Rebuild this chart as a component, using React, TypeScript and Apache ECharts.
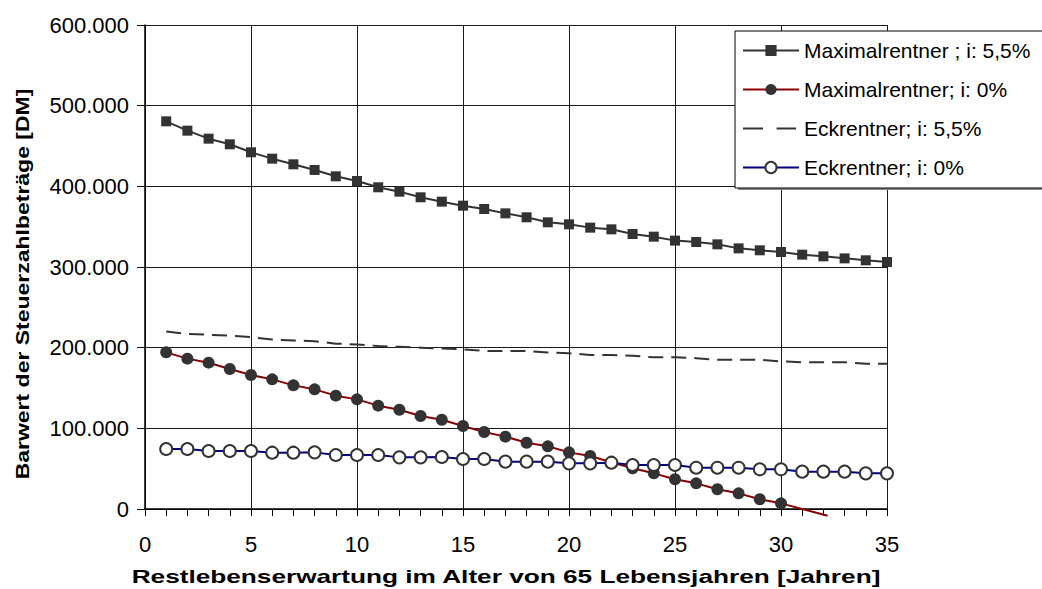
import React, { useEffect, useRef } from "react";
import * as echarts from "echarts";

const years = [1, 2, 3, 4, 5, 6, 7, 8, 9, 10, 11, 12, 13, 14, 15, 16, 17, 18, 19, 20, 21, 22, 23, 24, 25, 26, 27, 28, 29, 30, 31, 32, 33, 34, 35];

const seriesNames = [
  "Maximalrentner ; i: 5,5%",
  "Maximalrentner; i: 0%",
  "Eckrentner; i: 5,5%",
  "Eckrentner; i: 0%",
];

const maxi55 = [480600, 469000, 459100, 452100, 442200, 434300, 427300, 420300, 412400, 406600, 398800, 393400, 386400, 381000, 376000, 371900, 366500, 361600, 355400, 352900, 348800, 346700, 340900, 337600, 332700, 331000, 328100, 323100, 320700, 318600, 315300, 313200, 310700, 308300, 306200];
const maxi0 = [194200, 186400, 181400, 173600, 166100, 160700, 153300, 148300, 140500, 135900, 128100, 123100, 115300, 110700, 102900, 95500, 89700, 82200, 77700, 70200, 65700, 58000, 50400, 44200, 36800, 31800, 24400, 19400, 12000, 7000];
const eck55 = [220000, 217000, 216000, 215000, 213000, 210000, 209000, 208000, 205000, 204000, 202000, 201000, 200000, 199000, 198000, 196000, 196000, 196000, 194000, 193000, 191000, 191000, 190000, 188000, 188000, 187000, 185000, 185000, 185000, 183000, 182000, 182000, 182000, 180000, 180000];
const eck0 = [74400, 74400, 71900, 71900, 71900, 69800, 69800, 70200, 66900, 66900, 66900, 64000, 64000, 64500, 62000, 62000, 58700, 58700, 58700, 56600, 56600, 57400, 54500, 54500, 54500, 51200, 51200, 51200, 49200, 49200, 46300, 46300, 46300, 44200, 44200];

// line continuations past the last marker (no marker drawn)
const maxi55Tail = [35.46, 302900];
const maxi0Tail = [32.2, -8300];
const eck55Tail = [35.46, 179000];
const eck0Tail = [35.46, 43400];

const xTicks = { min: 0, max: 35, interval: 5 };
const yTicks = { min: 0, max: 600000, interval: 100000 };

const xTitle = "Restlebenserwartung im Alter von 65 Lebensjahren [Jahren]";
const yTitle = "Barwert der Steuerzahlbeträge [DM]";

const FONT = '"Liberation Sans", Arial, sans-serif';

function fmt(v: number): string {
  const s = String(Math.round(Math.abs(v)));
  const out = s.replace(/\B(?=(\d{3})+(?!\d))/g, ".");
  return v < 0 ? "-" + out : out;
}

function build(vals: number[], tail: number[]) {
  const d: any[] = vals.map((v, i) => [years[i], v]);
  d.push({ value: tail, symbol: "none" });
  return d;
}

export default function App() {
  const ref = useRef<HTMLDivElement>(null);
  useEffect(() => {
    const chart = echarts.init(ref.current!, null, { renderer: "svg" });
    const gridColor = "#1a1a1a";
    chart.setOption({
      animation: false,
      backgroundColor: "#ffffff",
      textStyle: { fontFamily: FONT },
      grid: { left: 145, right: 155, top: 25, bottom: 80, containLabel: false },
      xAxis: {
        type: "value",
        min: xTicks.min,
        max: xTicks.max,
        interval: xTicks.interval,
        axisLine: { show: true, onZero: false, lineStyle: { color: "#000", width: 1.5 } },
        axisTick: { show: true, length: 7, lineStyle: { color: "#000", width: 1 } },
        minorTick: { show: true, splitNumber: 5, length: 7, lineStyle: { color: "#000", width: 1 } },
        splitLine: { show: true, lineStyle: { color: gridColor, width: 1 } },
        axisLabel: { fontSize: 22, color: "#000", margin: 24, fontFamily: FONT },
      },
      yAxis: {
        type: "value",
        min: yTicks.min,
        max: yTicks.max,
        interval: yTicks.interval,
        axisLine: { show: true, lineStyle: { color: "#000", width: 1.5 } },
        axisTick: { show: true, length: 8, lineStyle: { color: "#000", width: 1 } },
        splitLine: { show: true, lineStyle: { color: gridColor, width: 1 } },
        axisLabel: { fontSize: 22, color: "#000", margin: 16, fontFamily: FONT, formatter: (v: number) => fmt(v) },
      },
      legend: {
        orient: "vertical",
        left: 735,
        top: 31,
        padding: [9, 30, 10, 7],
        itemWidth: 56,
        itemHeight: 14,
        itemGap: 18,
        backgroundColor: "#fff",
        borderColor: "#000",
        borderWidth: 1,
        textStyle: { fontSize: 21, color: "#000", fontFamily: FONT },
        data: [
          { name: seriesNames[0] },
          { name: seriesNames[1] },
          { name: seriesNames[2], lineStyle: { type: [20, 13] } },
          { name: seriesNames[3] },
        ],
      },
      graphic: [
        {
          type: "rect",
          z: 3,
          shape: { x: 738, y: 34, width: 330, height: 156 },
          style: { fill: "#888" },
        },
        {
          type: "text",
          x: 22,
          y: 284,
          rotation: Math.PI / 2,
          scaleX: 1.21,
          style: {
            text: yTitle,
            font: 'bold 19px "Liberation Sans", Arial, sans-serif',
            fill: "#000",
            textAlign: "center",
            textVerticalAlign: "middle",
            align: "center",
            verticalAlign: "middle",
          },
        },
        {
          type: "text",
          x: 506,
          y: 576,
          scaleX: 1.38,
          style: {
            text: xTitle,
            font: 'bold 19px "Liberation Sans", Arial, sans-serif',
            fill: "#000",
            textAlign: "center",
            textVerticalAlign: "middle",
            align: "center",
            verticalAlign: "middle",
          },
        },
      ],
      series: [
        {
          name: seriesNames[0],
          type: "line",
          clip: false,
          data: build(maxi55, maxi55Tail),
          symbol: "rect",
          symbolSize: 10,
          itemStyle: { color: "#333" },
          lineStyle: { color: "#333", width: 2 },
        },
        {
          name: seriesNames[1],
          type: "line",
          clip: false,
          data: build(maxi0, maxi0Tail),
          symbol: "circle",
          symbolSize: 12,
          itemStyle: { color: "#333" },
          lineStyle: { color: "#8b0000", width: 2 },
        },
        {
          name: seriesNames[2],
          type: "line",
          clip: false,
          data: build(eck55, eck55Tail),
          symbol: "rect",
          symbolSize: 8,
          showSymbol: false,
          itemStyle: { color: "#fff", borderWidth: 0 },
          lineStyle: { color: "#333", width: 2, type: [15, 8] },
        },
        {
          name: seriesNames[3],
          type: "line",
          clip: false,
          data: build(eck0, eck0Tail),
          symbol: "circle",
          symbolSize: 12,
          itemStyle: { color: "#fff", borderColor: "#333", borderWidth: 2 },
          lineStyle: { color: "#000080", width: 2 },
        },
      ],
    });
    return () => chart.dispose();
  }, []);
  return (
    <div
      ref={ref}
      style={{ position: "fixed", left: 0, top: 0, width: 1042, height: 589, background: "#fff" }}
    />
  );
}
